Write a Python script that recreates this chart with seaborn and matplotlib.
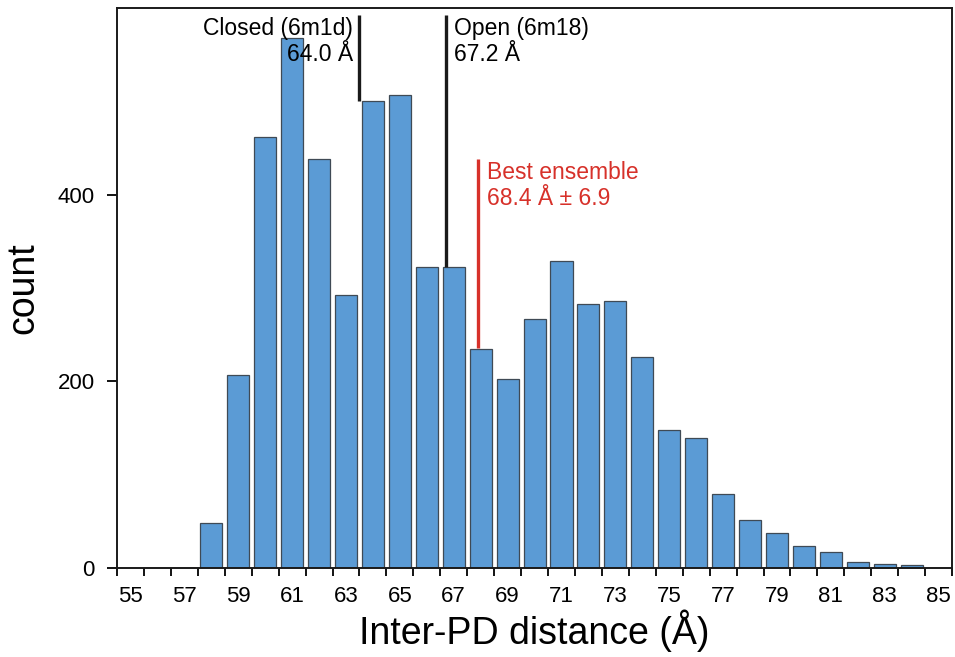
import numpy as np
import pandas as pd
import seaborn as sns
import matplotlib
matplotlib.use('Agg')
import matplotlib.pyplot as plt

# histogram of inter-PD distances, bins 55..85 A
distance = list(range(55, 86))
count = [0, 0, 0, 48, 207, 462, 568, 438, 293, 500, 507, 323, 323, 235, 202,
         267, 329, 283, 286, 226, 148, 139, 79, 51, 37, 24, 17, 6, 4, 3, 0]

# reference structures and best ensemble
ref_names = ['Closed (6m1d)', 'Open (6m18)']
ref_values = [64.0, 67.2]
ref_tops = [500, 323]
best_value = 68.4
best_sd = 6.9
best_top = 236

df = pd.DataFrame({'distance': [str(d) for d in distance], 'count': count})

sns.set_style('white')
plt.rcParams['font.family'] = ['Liberation Sans', 'DejaVu Sans']
plt.rcParams['text.color'] = 'black'
plt.rcParams['xtick.color'] = 'black'
plt.rcParams['ytick.color'] = 'black'
plt.rcParams['axes.labelcolor'] = 'black'

fig = plt.figure(figsize=(9.55, 6.57), dpi=100)
ax = fig.add_axes([0.1225, 0.1355, 0.8745, 0.8523])

sns.barplot(data=df, x='distance', y='count', color='#5b9bd5',
            saturation=1, width=0.82, edgecolor='#3f4a55', linewidth=0.9,
            order=df['distance'], ax=ax)

# bar for value k spans [k, k+1) -> category position k - 55 - 0.5
def pos(v):
    return v - distance[0] - 0.5

for name, v, top, ha in zip(ref_names, ref_values, ref_tops, ['right', 'left']):
    ax.vlines(pos(v), top, 593, color='#1a1a1a', linewidth=2.4, zorder=3)
    dx = -0.25 if ha == 'right' else 0.3
    ax.text(pos(v) + dx, 578, name, ha=ha, va='center', fontsize=16.5)
    ax.text(pos(v) + dx, 550, f'{v:.1f} Å', ha=ha, va='center', fontsize=16.5)

ax.vlines(pos(best_value), best_top, 438, color='#d7312a', linewidth=2.4, zorder=3)
ax.text(pos(best_value) + 0.35, 424, 'Best ensemble', ha='left', va='center',
        fontsize=16.5, color='#d7312a')
ax.text(pos(best_value) + 0.35, 396, f'{best_value:.1f} Å ± {best_sd}', ha='left',
        va='center', fontsize=16.5, color='#d7312a')

ax.set_xlim(-0.5, len(distance) - 0.5)
ax.set_ylim(0, 600)
ax.set_yticks([0, 200, 400])
ax.set_xticks(range(0, len(distance), 2))
ax.set_xticklabels([str(d) for d in distance[::2]])
ax.set_xticks(np.arange(-0.5, len(distance), 1), minor=True)
ax.tick_params(axis='x', which='major', length=0, labelsize=16, pad=13)
ax.tick_params(axis='x', which='minor', length=6, width=1.3, direction='out')
ax.tick_params(axis='y', length=7, width=1.3, direction='out', labelsize=16, pad=9)
ax.tick_params(bottom=True, left=True, which='both')

for sp in ax.spines.values():
    sp.set_visible(True)
    sp.set_linewidth(1.4)
    sp.set_color('#1a1a1a')

ax.set_xlabel('Inter-PD distance (Å)', fontsize=27, labelpad=2)
ax.set_ylabel('count', fontsize=27, labelpad=12)

fig.savefig('out.png', dpi=100)
